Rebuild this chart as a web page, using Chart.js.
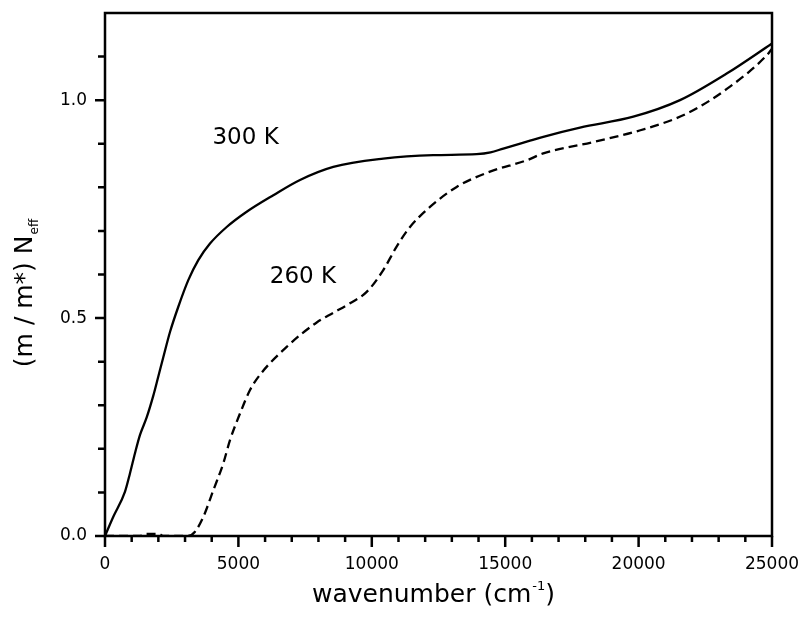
<!DOCTYPE html>
<html><head><meta charset="utf-8">
<script src="https://cdn.jsdelivr.net/npm/chart.js@4"></script>
<style>html,body{margin:0;padding:0;background:#fff;}</style>
</head><body>
<canvas id="c" width="802" height="625"></canvas>
<script>
// ---- data ----
const wavenumber300 = [0, 311, 750, 937, 1124, 1312, 1562, 1811, 1998, 2185, 2436, 2748, 3122, 3497, 3936, 4561, 5311, 6309, 7309, 8556, 10430, 12305, 13929, 14450, 14929, 15930, 16428, 17804, 19802, 21552, 23301, 25000];
const neff300       = [0, 0.044, 0.102, 0.144, 0.19, 0.232, 0.272, 0.322, 0.366, 0.41, 0.468, 0.526, 0.587, 0.633, 0.671, 0.709, 0.744, 0.782, 0.817, 0.847, 0.866, 0.874, 0.876, 0.88, 0.889, 0.907, 0.916, 0.937, 0.962, 1.0, 1.061, 1.13];
const wavenumber260 = [0, 1300, 1500, 2000, 2200, 3100, 3373, 3686, 4060, 4435, 4685, 5060, 5435, 5810, 6810, 7935, 8556, 9183, 9808, 10430, 10930, 11432, 12181, 13182, 14430, 15805, 16428, 18303, 20067, 21800, 23426, 24803, 25000];
const neff260       = [0, 0, 0.005, 0.005, 0, 0, 0.01, 0.044, 0.105, 0.167, 0.22, 0.281, 0.335, 0.37, 0.434, 0.49, 0.512, 0.534, 0.56, 0.61, 0.664, 0.709, 0.755, 0.801, 0.836, 0.862, 0.878, 0.904, 0.931, 0.969, 1.031, 1.103, 1.118];
const seriesLabels = ['300 K', '260 K'];
const xTickLabels = ['0', '5000', '10000', '15000', '20000', '25000'];
const yTickLabels = ['0.0', '0.5', '1.0'];
const xTitleParts = ['wavenumber (cm', '-1', ')'];
const yTitleParts = ['(m / m*) N', 'eff'];

const toPts = (xs, ys) => xs.map((v, i) => ({x: v, y: ys[i]}));
const FONT = "'DejaVu Sans', sans-serif";
Chart.defaults.font.family = FONT;
Chart.defaults.color = '#000';

const decor = {
  id: 'decor',
  afterDatasetsDraw(chart) {
    const {ctx, chartArea: a, scales: {x, y}} = chart;
    ctx.save();
    ctx.strokeStyle = '#000';
    ctx.lineWidth = 2.5;
    ctx.strokeRect(a.left, a.top, a.right - a.left, a.bottom - a.top);
    ctx.beginPath();
    x.ticks.forEach(t => {
      const px = x.getPixelForValue(t.value);
      const len = t.label !== '' ? 11 : 6;
      ctx.moveTo(px, a.bottom); ctx.lineTo(px, a.bottom + len);
    });
    y.ticks.forEach(t => {
      if (t.value > 1.15) return;
      const py = y.getPixelForValue(t.value);
      const len = t.label !== '' ? 10 : 7;
      ctx.moveTo(a.left, py); ctx.lineTo(a.left - len, py);
    });
    ctx.stroke();

    ctx.fillStyle = '#000';
    // series annotations
    ctx.font = '23px ' + FONT;
    ctx.textAlign = 'center';
    ctx.textBaseline = 'alphabetic';
    ctx.fillText(seriesLabels[0], x.getPixelForValue(5270), y.getPixelForValue(0.9));
    ctx.fillText(seriesLabels[1], x.getPixelForValue(7420), y.getPixelForValue(0.58));

    // x title with superscript
    ctx.textAlign = 'left';
    const big = '25px ' + FONT, small = '13px ' + FONT;
    ctx.font = big; const w1 = ctx.measureText(xTitleParts[0]).width;
    const w3 = ctx.measureText(xTitleParts[2]).width;
    ctx.font = small; const w2 = ctx.measureText(xTitleParts[1]).width;
    const total = w1 + w2 + w3 + 1;
    let sx = (a.left + a.right) / 2 - 5 - total / 2;
    const by = a.bottom + 66;
    ctx.font = big; ctx.fillText(xTitleParts[0], sx, by);
    ctx.font = small; ctx.fillText(xTitleParts[1], sx + w1 + 1, by - 12);
    ctx.font = big; ctx.fillText(xTitleParts[2], sx + w1 + w2 + 1, by);

    // y title with subscript
    ctx.save();
    ctx.font = big;
    const m1 = ctx.measureText(yTitleParts[0]).width;
    ctx.font = '12px ' + FONT;
    const m2 = ctx.measureText(yTitleParts[1]).width;
    const cy = (a.top + a.bottom) / 2 + 19;
    ctx.translate(32, cy + (m1 + m2) / 2);
    ctx.rotate(-Math.PI / 2);
    ctx.font = big; ctx.fillText(yTitleParts[0], 0, 0);
    ctx.font = '12px ' + FONT; ctx.fillText(yTitleParts[1], m1 + 1, 6);
    ctx.restore();
    ctx.restore();
  }
};

const zeroPad = s => { s.paddingTop = 0; s.paddingBottom = 0; s.paddingLeft = 0; s.paddingRight = 0; };

new Chart(document.getElementById('c'), {
  type: 'line',
  data: {
    datasets: [
      {label: seriesLabels[0], data: toPts(wavenumber300, neff300), borderColor: '#000', borderWidth: 2.3, pointRadius: 0, cubicInterpolationMode: 'monotone', fill: false},
      {label: seriesLabels[1], data: toPts(wavenumber260, neff260), borderColor: '#000', borderWidth: 2.3, borderDash: [9, 5], pointRadius: 0, cubicInterpolationMode: 'monotone', fill: false}
    ]
  },
  options: {
    responsive: false,
    animation: false,
    devicePixelRatio: 1,
    layout: {padding: {top: 13, right: 30, left: 0, bottom: 0}},
    plugins: {legend: {display: false}, tooltip: {enabled: false}},
    scales: {
      x: {
        type: 'linear', min: 0, max: 25000,
        grid: {display: false, drawTicks: false}, border: {display: false},
        afterFit: s => { s.height = 89; zeroPad(s); },
        ticks: {
          stepSize: 1000, autoSkip: false, maxRotation: 0, padding: 18,
          font: {size: 17}, color: '#000',
          callback: v => (v % 5000 === 0 ? xTickLabels[v / 5000] : '')
        }
      },
      y: {
        type: 'linear', min: 0, max: 1.2,
        grid: {display: false, drawTicks: false}, border: {display: false},
        afterFit: s => { s.width = 105; zeroPad(s); },
        ticks: {
          stepSize: 0.1, autoSkip: false, padding: 18,
          font: {size: 17}, color: '#000',
          callback: v => {
            const k = Math.round(v * 10);
            return (k % 5 === 0 && k <= 10) ? yTickLabels[k / 5] : '';
          }
        }
      }
    }
  },
  plugins: [decor]
});
</script>
</body></html>
